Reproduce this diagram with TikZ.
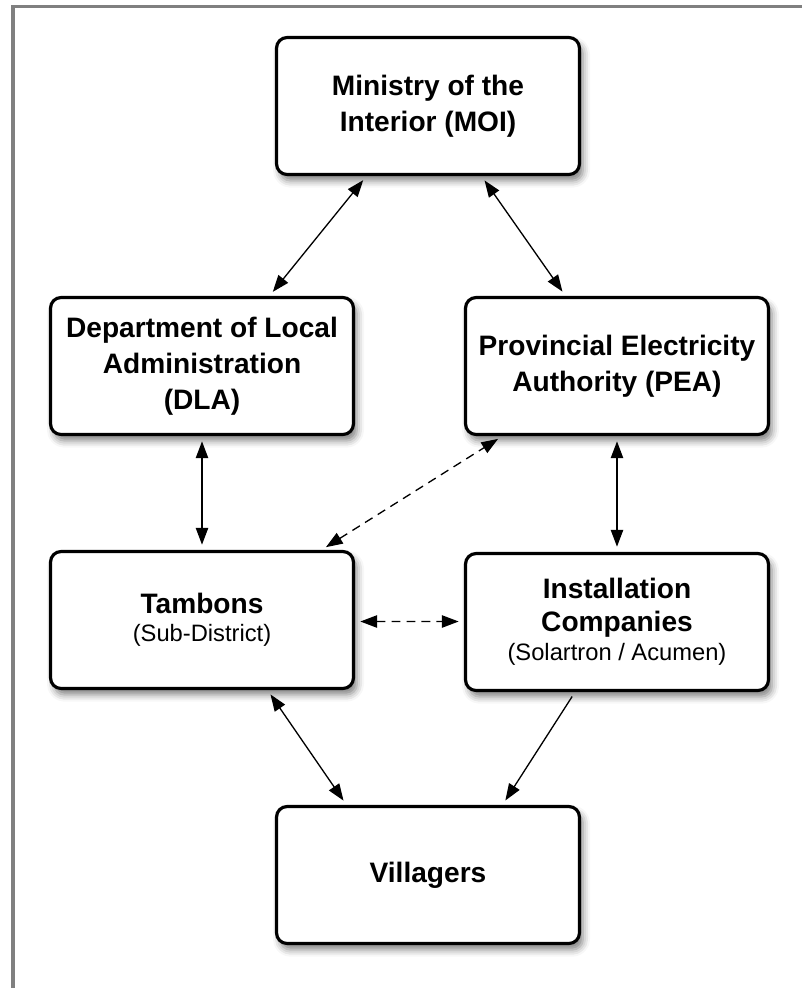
\documentclass[tikz,border=0pt]{standalone}
\usepackage{fontspec}
\setmainfont{Liberation Sans}
\usetikzlibrary{arrows.meta,shadows.blur}
\newcommand{\smalltxt}{\fontsize{13.5}{16}\selectfont\mdseries}
\begin{document}
\begin{tikzpicture}[x=0.02cm,y=-0.02cm,>={Triangle[length=9.5pt,width=7pt]},
  boxstyle/.style={draw,line width=1.8pt,rounded corners=6pt,fill=white,
    minimum width=6.06cm,minimum height=2.74cm,align=center,
    font=\fontsize{16}{20.5}\selectfont\bfseries,
    blur shadow={shadow xshift=2pt,shadow yshift=-3.5pt,shadow blur radius=4pt,shadow opacity=50}},
  linkstyle/.style={line width=0.75pt,shorten <=3pt,shorten >=3pt},
  dashlink/.style={linkstyle,dash pattern=on 5pt off 3.5pt}]
\useasboundingbox (0,0) rectangle (802,988);
\draw[line width=2pt,black!50] (13,988) -- (13,6.5) -- (802,6.5);

\node[boxstyle] (moi) at (428,106) {Ministry of the\\Interior (MOI)};
\node[boxstyle] (dla) at (202,366) {Department of Local\\Administration\\(DLA)};
\node[boxstyle] (pea) at (617,366) {Provincial Electricity\\Authority (PEA)};
\node[boxstyle] (tam) at (202,620) {Tambons\\[-4.5pt]{\smalltxt (Sub-District)}};
\node[boxstyle] (inst) at (617,622) {Installation\\[-1.5pt]Companies\\[-4pt]{\smalltxt (Solartron / Acumen)}};
\node[boxstyle] (vil) at (428,875) {Villagers};

\draw[linkstyle,<->] ([xshift=-1.23cm]moi.south) -- ([xshift=1.35cm]dla.north);
\draw[linkstyle,<->] ([xshift=1.07cm]moi.south) -- ([xshift=-1.03cm]pea.north);
\draw[linkstyle,<->] (dla) -- (tam);
\draw[linkstyle,<->] (pea) -- (inst);
\draw[dashlink,<->] ([xshift=2.39cm]tam.north) -- ([xshift=-2.29cm]pea.south);
\draw[dashlink,<->] ([yshift=-0.03cm]tam.east) -- ([yshift=0.01cm]inst.west);
\draw[linkstyle,<->] ([xshift=1.31cm]tam.south) -- ([xshift=-1.63cm]vil.north);
\draw[linkstyle,->] ([xshift=-0.84cm]inst.south) -- ([xshift=1.49cm]vil.north);
\end{tikzpicture}
\end{document}
